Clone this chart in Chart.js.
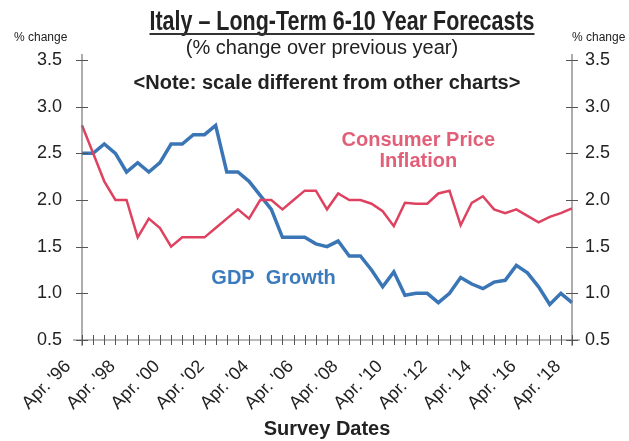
<!DOCTYPE html>
<html lang="en">
<head>
  <meta charset="UTF-8">
  <title>Italy - Long-Term 6-10 Year Forecasts</title>
  <script src="https://cdn.jsdelivr.net/npm/chart.js"></script>
  <style>
    body {
      margin: 0;
      padding: 0;
      background-color: #fff;
    }
    #chart-container {
      width: 629px;
      height: 441px;
    }
  </style>
</head>
<body>
  <div id="chart-container">
    <canvas id="italyChart"></canvas>
  </div>

  <script>
    // survey dates, twice a year
    const surveyDates = [
      "Apr. '96", "Oct. '96", "Apr. '97", "Oct. '97", "Apr. '98", "Oct. '98",
      "Apr. '99", "Oct. '99", "Apr. '00", "Oct. '00", "Apr. '01", "Oct. '01",
      "Apr. '02", "Oct. '02", "Apr. '03", "Oct. '03", "Apr. '04", "Oct. '04",
      "Apr. '05", "Oct. '05", "Apr. '06", "Oct. '06", "Apr. '07", "Oct. '07",
      "Apr. '08", "Oct. '08", "Apr. '09", "Oct. '09", "Apr. '10", "Oct. '10",
      "Apr. '11", "Oct. '11", "Apr. '12", "Oct. '12", "Apr. '13", "Oct. '13",
      "Apr. '14", "Oct. '14", "Apr. '15", "Oct. '15", "Apr. '16", "Oct. '16",
      "Apr. '17", "Oct. '17", "Apr. '18"
    ];
    const xTickLabels = [
      "Apr. '96", "Apr. '98", "Apr. '00", "Apr. '02", "Apr. '04", "Apr. '06",
      "Apr. '08", "Apr. '10", "Apr. '12", "Apr. '14", "Apr. '16", "Apr. '18"
    ];
    const cpiInflation = [
      2.8, 2.5, 2.2, 2.0, 2.0, 1.6, 1.8, 1.7, 1.5, 1.6, 1.6, 1.6,
      1.7, 1.8, 1.9, 1.8, 2.0, 2.0, 1.9, 2.0, 2.1, 2.1, 1.9, 2.07,
      2.0, 2.0, 1.96, 1.88, 1.72, 1.97, 1.96, 1.96, 2.07, 2.1, 1.73, 1.97,
      2.04, 1.9, 1.86, 1.9, 1.83, 1.76, 1.82, 1.86, 1.91
    ];
    const gdpGrowth = [
      2.5, 2.5, 2.6, 2.5, 2.3, 2.4, 2.3, 2.4, 2.6, 2.6, 2.7, 2.7,
      2.8, 2.3, 2.3, 2.2, 2.05, 1.9, 1.6, 1.6, 1.6, 1.53, 1.5, 1.56,
      1.4, 1.4, 1.25, 1.07, 1.23, 0.98, 1.0, 1.0, 0.9, 1.0, 1.17, 1.1,
      1.05, 1.12, 1.14, 1.3, 1.22, 1.07, 0.88, 1.0, 0.9
    ];
    const yMin = 0.5;
    const yMax = 3.5;
    const yStep = 0.5;

    const RED = '#de4260';
    const BLUE = '#3a76b6';
    const INK = '#222';

    // axes, crossing tick marks and all the free text
    const decorPlugin = {
      id: 'decor',
      afterDraw(chart) {
        const ctx = chart.ctx;
        const area = chart.chartArea;
        const x = chart.scales.x;
        const y = chart.scales.y;

        ctx.save();
        ctx.strokeStyle = '#777';
        ctx.lineWidth = 1.2;
        ctx.beginPath();
        ctx.moveTo(area.left, area.top - 6);
        ctx.lineTo(area.left, area.bottom + 6);
        ctx.moveTo(area.right, area.top - 6);
        ctx.lineTo(area.right, area.bottom + 6);
        ctx.moveTo(area.left - 9, area.bottom);
        ctx.lineTo(area.right + 8, area.bottom);
        ctx.stroke();

        ctx.strokeStyle = '#555';
        ctx.lineWidth = 1;
        ctx.beginPath();
        for (let v = yMin; v <= yMax + 1e-9; v += yStep) {
          const py = Math.round(y.getPixelForValue(v)) + 0.5;
          ctx.moveTo(area.left - 6, py);
          ctx.lineTo(area.left + 6, py);
          ctx.moveTo(area.right - 6, py);
          ctx.lineTo(area.right + 6, py);
        }
        surveyDates.forEach((d, i) => {
          const px = Math.round(x.getPixelForValue(i)) + 0.5;
          ctx.moveTo(px, area.bottom - 5);
          ctx.lineTo(px, area.bottom + 5);
        });
        ctx.stroke();

        // title, squeezed like a condensed face
        ctx.fillStyle = INK;
        ctx.textBaseline = 'alphabetic';
        ctx.textAlign = 'center';
        ctx.font = 'bold 27px "Liberation Sans", Arial, sans-serif';
        const title = 'Italy \u2013 Long-Term 6-10 Year Forecasts';
        const titleW = 385;
        const sx = Math.min(1, titleW / ctx.measureText(title).width);
        ctx.save();
        ctx.translate(342, 30);
        ctx.scale(sx, 1);
        ctx.fillText(title, 0, 0);
        ctx.restore();
        ctx.strokeStyle = '#333';
        ctx.lineWidth = 2;
        ctx.beginPath();
        ctx.moveTo(342 - titleW / 2, 34);
        ctx.lineTo(342 + titleW / 2, 34);
        ctx.stroke();

        ctx.font = '20px "Liberation Sans", Arial, sans-serif';
        ctx.fillText('(% change over previous year)', 322, 54);
        ctx.font = 'bold 20px "Liberation Sans", Arial, sans-serif';
        ctx.fillText('<Note: scale different from other charts>', 327, 89);

        ctx.font = '12px "Liberation Sans", Arial, sans-serif';
        ctx.textAlign = 'left';
        ctx.fillText('% change', 14, 41);
        ctx.fillText('% change', 572, 41);

        // series labels, placed on the data scales
        ctx.textAlign = 'center';
        ctx.font = 'bold 20px "Liberation Sans", Arial, sans-serif';
        ctx.fillStyle = '#e25f78';
        const cx = x.getPixelForValue(30.2);
        ctx.fillText('Consumer Price', cx, y.getPixelForValue(2.58));
        ctx.fillText('Inflation', cx, y.getPixelForValue(2.35));
        ctx.fillStyle = '#3b7bbd';
        ctx.fillText('GDP  Growth', x.getPixelForValue(17.2), y.getPixelForValue(1.1));
        ctx.restore();
      }
    };

    const tickFont = { family: '"Liberation Sans", Arial, sans-serif', size: 18 };

    const ctx = document.getElementById('italyChart').getContext('2d');
    const italyChart = new Chart(ctx, {
      type: 'line',
      data: {
        labels: surveyDates,
        datasets: [{
          label: 'Consumer Price Inflation',
          data: cpiInflation,
          borderColor: RED,
          borderWidth: 2.5,
          pointRadius: 0,
          tension: 0,
          fill: false
        }, {
          label: 'GDP Growth',
          data: gdpGrowth,
          borderColor: BLUE,
          borderWidth: 3.5,
          pointRadius: 0,
          tension: 0,
          fill: false
        }]
      },
      options: {
        responsive: true,
        maintainAspectRatio: false,
        devicePixelRatio: 1,
        animation: false,
        layout: { padding: { top: 60, left: 0, right: 0, bottom: 0 } },
        plugins: {
          legend: { display: false },
          tooltip: { enabled: false }
        },
        scales: {
          x: {
            type: 'category',
            offset: false,
            grid: { display: false },
            border: { display: false },
            ticks: {
              autoSkip: false,
              minRotation: 45,
              maxRotation: 45,
              labelOffset: -14,
              padding: 8,
              color: INK,
              font: tickFont,
              callback: function (value, index) {
                const d = surveyDates[index];
                return xTickLabels.includes(d) ? d : '';
              }
            },
            title: {
              display: true,
              text: 'Survey Dates',
              color: INK,
              padding: { top: 0, bottom: 0 },
              font: { family: tickFont.family, size: 20, weight: 'bold' }
            },
            afterFit: s => { s.height = 101; }
          },
          y: {
            position: 'left',
            min: yMin,
            max: yMax,
            grid: { display: false },
            border: { display: false },
            ticks: {
              stepSize: yStep,
              padding: 12,
              color: INK,
              font: tickFont,
              callback: v => v.toFixed(1)
            },
            afterFit: s => { s.width = 82; }
          },
          y2: {
            position: 'right',
            min: yMin,
            max: yMax,
            grid: { display: false },
            border: { display: false },
            ticks: {
              stepSize: yStep,
              padding: 5,
              color: INK,
              font: tickFont,
              callback: v => v.toFixed(1)
            },
            afterFit: s => { s.width = 57; }
          }
        }
      },
      plugins: [decorPlugin]
    });
  </script>
</body>
</html>
